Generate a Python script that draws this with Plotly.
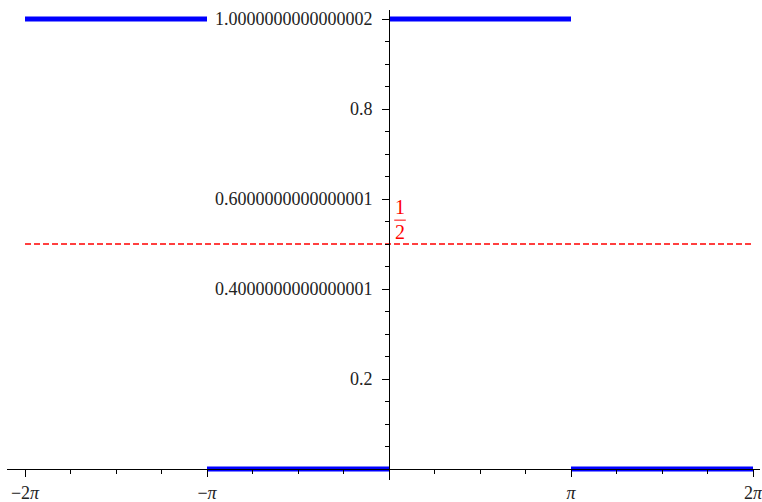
import numpy as np
import plotly.graph_objects as go

PI = np.pi

# Piecewise constant segments: (x_start, x_end, value)
seg_x0 = [-2 * PI, -PI, 0.0, PI]
seg_x1 = [-PI, 0.0, PI, 2 * PI]
seg_val = [1.0, 0.0, 1.0, 0.0]

mean_value = 0.5
mean_label_num = "1"
mean_label_den = "2"

x_tickvals = [-2 * PI, -PI, PI, 2 * PI]
x_ticktext = ["\u22122<i>\u03c0</i>", "\u2212<i>\u03c0</i>", "<i>\u03c0</i>", "2<i>\u03c0</i>"]
y_tickvals = [0.2, 0.4, 0.6, 0.8, 1.0]
y_ticktext = ["0.2", "0.4000000000000001", "0.6000000000000001", "0.8", "1.0000000000000002"]

FONT = "Liberation Serif"

fig = go.Figure()

xs, ys = [], []
for a, b, v in zip(seg_x0, seg_x1, seg_val):
    xs += [a, b, None]
    ys += [v, v, None]
fig.add_trace(go.Scatter(x=xs, y=ys, mode="lines",
                         line=dict(color="#0000ff", width=5),
                         hoverinfo="skip", showlegend=False))

fig.add_trace(go.Scatter(x=[seg_x0[0], seg_x1[-1]], y=[mean_value, mean_value], mode="lines",
                         line=dict(color="#ff0000", width=1.4, dash="6px,3px"),
                         hoverinfo="skip", showlegend=False))

xmin, xmax = -6.594, 6.404
ymin, ymax = -0.02444, 1.02
xpos = (0 - xmin) / (xmax - xmin)
ypos = (0 - ymin) / (ymax - ymin)

fig.update_layout(
    width=762, height=502,
    margin=dict(l=7, r=2, t=10, b=22),
    paper_bgcolor="white", plot_bgcolor="white",
    font=dict(family=FONT, size=18, color="#222222"),
    xaxis=dict(range=[xmin, xmax], anchor="free", position=ypos,
               showgrid=False, zeroline=False, showline=True, linecolor="black", linewidth=1,
               ticks="outside", ticklen=7, tickwidth=1, tickcolor="black",
               tickvals=x_tickvals, ticktext=x_ticktext, automargin=False,
               ticklabelstandoff=0, ticklabeloverflow="allow",
               tickfont=dict(family=FONT, size=18, color="#222222"),
               minor=dict(ticks="outside", ticklen=4, tickwidth=1, tickcolor="black",
                          dtick=PI / 4, tick0=0, showgrid=False)),
    yaxis=dict(range=[ymin, ymax], anchor="free", position=xpos,
               showgrid=False, zeroline=False, showline=True, linecolor="black", linewidth=1,
               ticks="outside", ticklen=7, tickwidth=1, tickcolor="black",
               tickvals=y_tickvals, ticktext=y_ticktext, automargin=False,
               ticklabelstandoff=6, ticklabeloverflow="allow",
               tickfont=dict(family=FONT, size=18, color="#222222"),
               minor=dict(ticks="outside", ticklen=4, tickwidth=1, tickcolor="black",
                          dtick=0.05, tick0=0, showgrid=False)),
)

# Fraction label 1/2 near the mean line
fig.add_annotation(x=0.19, y=0.583, xref="x", yref="y", text=mean_label_num, showarrow=False,
                   font=dict(family=FONT, size=20, color="#ff0000"))
fig.add_annotation(x=0.19, y=0.527, xref="x", yref="y", text=mean_label_den, showarrow=False,
                   font=dict(family=FONT, size=20, color="#ff0000"))
fig.add_shape(type="line", x0=0.09, x1=0.29, y0=0.553, y1=0.553, xref="x", yref="y",
              line=dict(color="#ff0000", width=1))

fig.write_html("out.html",
               config={"displayModeBar": False},
               post_script="document.body.style.margin='0';document.body.style.overflow='hidden';")
